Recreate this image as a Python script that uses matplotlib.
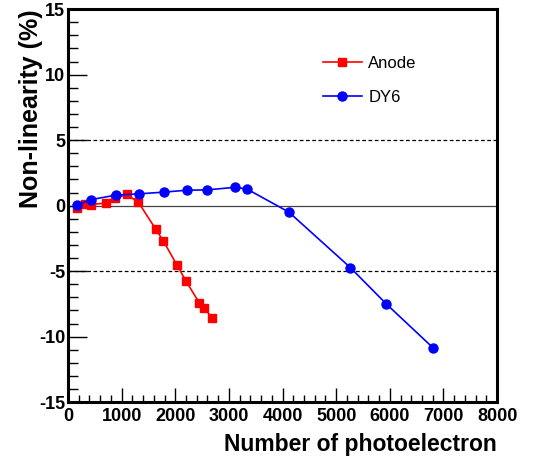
import matplotlib

matplotlib.use("Agg")
import matplotlib.pyplot as plt
from matplotlib.ticker import MultipleLocator

# non-linearity measurements vs number of photoelectrons
anode_npe = [160, 317, 429, 709, 877, 1095, 1312, 1636, 1779, 2034, 2201, 2450, 2537, 2693]
anode_nl = [-0.2, 0.13, 0.08, 0.2, 0.56, 0.85, 0.26, -1.8, -2.7, -4.56, -5.77, -7.44, -7.8, -8.6]

dy6_npe = [162, 429, 890, 1325, 1785, 2220, 2587, 3116, 3340, 4117, 5267, 5933, 6804]
dy6_nl = [0.05, 0.46, 0.8, 0.9, 1.03, 1.18, 1.2, 1.4, 1.26, -0.49, -4.74, -7.5, -10.85]

plt.rcParams["font.family"] = ["Liberation Sans", "DejaVu Sans"]
plt.rcParams["axes.unicode_minus"] = False

fig = plt.figure(figsize=(5.33, 4.59), dpi=100)
ax = fig.add_axes([0.1276, 0.124, 0.805, 0.856])

ax.axhline(0, color="#444444", lw=0.9, zorder=1)
for lvl in (5, -5):
    ax.axhline(lvl, color="black", lw=0.9, ls=(0, (3, 2)), zorder=1)

ax.plot(anode_npe, anode_nl, color="red", lw=1.2, marker="s", ms=6,
        label="Anode", zorder=3)
ax.plot(dy6_npe, dy6_nl, color="blue", lw=1.2, marker="o", ms=6.5,
        label="DY6", zorder=3)

ax.set_xlim(0, 8000)
ax.set_ylim(-15, 15)
ax.xaxis.set_major_locator(MultipleLocator(1000))
ax.xaxis.set_minor_locator(MultipleLocator(200))
ax.yaxis.set_major_locator(MultipleLocator(5))
ax.yaxis.set_minor_locator(MultipleLocator(1))

ax.tick_params(axis="x", which="major", direction="in", length=10, width=1, pad=4)
ax.tick_params(axis="x", which="minor", direction="in", length=5, width=1)
ax.tick_params(axis="y", which="major", direction="in", length=14, width=1, pad=2)
ax.tick_params(axis="y", which="minor", direction="in", length=7, width=1)
for lab in ax.get_xticklabels() + ax.get_yticklabels():
    lab.set_fontsize(13)
    lab.set_fontweight("bold")

for sp in ax.spines.values():
    sp.set_linewidth(2.2)

ax.set_xlabel("Number of photoelectron", fontsize=16.5, fontweight="bold",
              loc="right", labelpad=6)
ax.set_ylabel("Non-linearity (%)", fontsize=18, fontweight="bold", loc="top")
# y title sits close to the axis, beside the short top tick labels
ax.yaxis.set_label_coords(-0.058, 1.0)

leg = ax.legend(loc="upper left", bbox_to_anchor=(0.56, 0.92), frameon=False,
                fontsize=12, handlelength=2.3, labelspacing=1.15,
                handletextpad=0.4)

fig.savefig("out.png", dpi=100)
